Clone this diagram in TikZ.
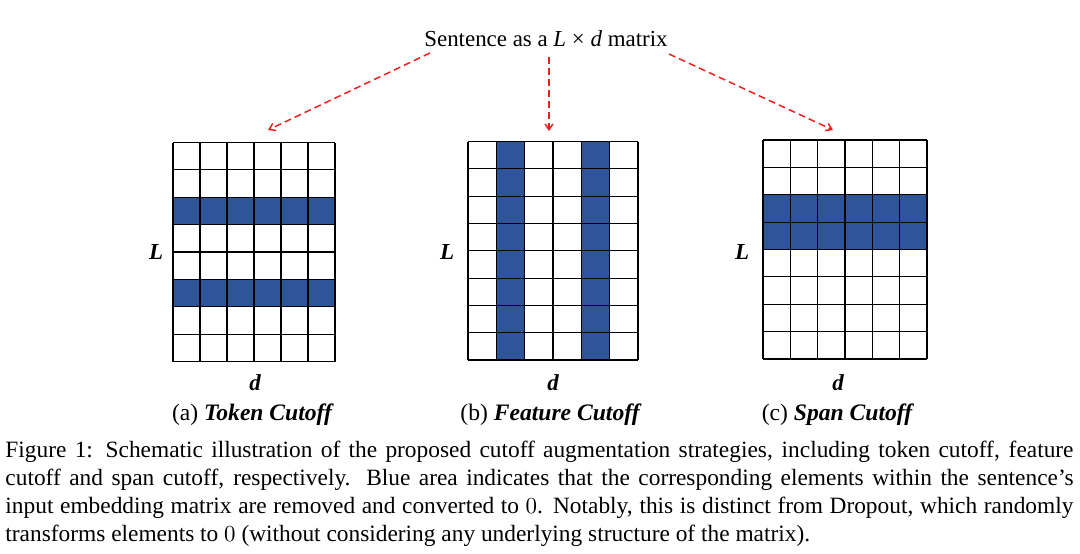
\documentclass[tikz,border=0pt]{standalone}
\usepackage{fontspec}
\setmainfont{Liberation Serif}
\usetikzlibrary{arrows.meta}
\definecolor{cutblue}{RGB}{46,85,151}
\definecolor{arrred}{RGB}{240,30,30}
\begin{document}
\begin{tikzpicture}[x=0.4364pt,y=-0.4364pt,
  gridline/.style={black,line width=0.45pt},
  conn/.style={arrred,line width=0.65pt,dash pattern=on 3pt off 1.8pt,-{Straight Barb[length=2.5pt,width=3.4pt]}},
  axislabel/.style={font=\fontsize{10}{12}\selectfont\bfseries\itshape,inner sep=0pt},
  subcap/.style={font=\fontsize{10.3}{12}\selectfont,inner sep=0pt,anchor=base},
  ]
\useasboundingbox (0,0) rectangle (1080,553);
% title
\node[inner sep=0pt,anchor=base,font=\fontsize{10}{12}\selectfont] (title) at (546,46) {Sentence as a \textit{L} × \textit{d} matrix};
% ---- grid a
\foreach \r in {2,5} \fill[cutblue] (173,142.5+\r*27.375) rectangle (335,142.5+\r*27.375+27.375);
\foreach \i in {0,...,6} \draw[gridline] (173+\i*27,142.5) -- (173+\i*27,361.5);
\foreach \j in {0,...,8} \draw[gridline] (173,142.5+\j*27.375) -- (335,142.5+\j*27.375);
% ---- grid b
\foreach \c in {1,4} \fill[cutblue] (468+\c*28.333,141.5) rectangle (468+\c*28.333+28.333,360);
\foreach \i in {0,...,6} \draw[gridline] (468+\i*28.333,141.5) -- (468+\i*28.333,360);
\foreach \j in {0,...,8} \draw[gridline] (468,141.5+\j*27.3125) -- (638,141.5+\j*27.3125);
% ---- grid c
\fill[cutblue] (763,140+2*27.375) rectangle (927,140+4*27.375);
\foreach \i in {0,...,6} \draw[gridline] (763+\i*27.333,140) -- (763+\i*27.333,359);
\foreach \j in {0,...,8} \draw[gridline] (763,140+\j*27.375) -- (927,140+\j*27.375);
% axis labels
\node[axislabel] (La) at (156,252) {L};
\node[axislabel] (Lb) at (447,252) {L};
\node[axislabel] (Lc) at (742,252) {L};
\node[axislabel] (da) at (255,383) {d};
\node[axislabel] (db) at (553,383) {d};
\node[axislabel] (dc) at (838,383) {d};
% subcaptions
\node[subcap] (ca) at (253,420) {(a) \textbf{\textit{Token Cutoff}}};
\node[subcap] (cb) at (551,420) {(b) \textbf{\textit{Feature Cutoff}}};
\node[subcap] (cc) at (838,420) {(c) \textbf{\textit{Span Cutoff}}};
% arrows
\coordinate (sa) at (430,53);
\coordinate (sb) at (549,57);
\coordinate (sc) at (669,54);
\coordinate (ea) at (268,130);
\coordinate (eb) at (549,131);
\coordinate (ec) at (833,130);
\draw[conn] (sa) -- (ea);
\draw[conn] (sb) -- (eb);
\draw[conn] (sc) -- (ec);
% caption
\node[anchor=north west,inner sep=0pt,text width=1068*0.4364pt,align=justify,font=\fontsize{10.2}{12.1}\selectfont] (cap) at (5,441) {Figure 1: Schematic illustration of the proposed cutoff augmentation strategies, including token cutoff, feature\linebreak cutoff and span cutoff, respectively.  Blue area indicates that the corresponding elements within the sentence's\linebreak input embedding matrix are removed and converted to $0$. Notably, this is distinct from Dropout, which randomly\linebreak transforms elements to $0$ (without considering any underlying structure of the matrix).};
\end{tikzpicture}
\end{document}
